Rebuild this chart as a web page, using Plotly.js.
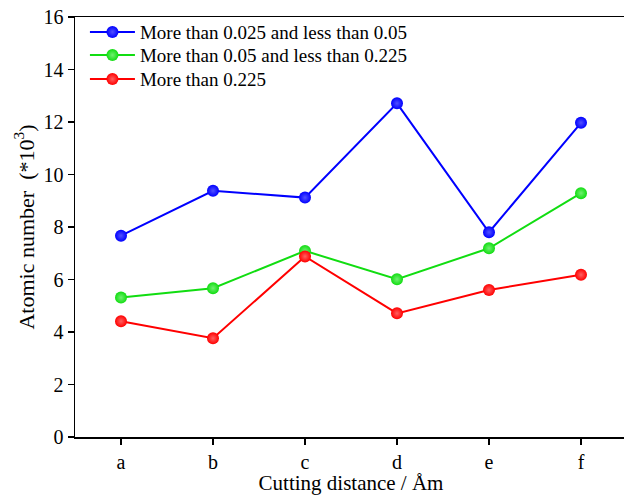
<!DOCTYPE html>
<html>
<head>
<meta charset="utf-8">
<script src="https://cdn.plot.ly/plotly-3.0.1.min.js"></script>
<style>
html,body{margin:0;padding:0;overflow:hidden;background:#fff;}
#chart{width:630px;height:495px;}
</style>
</head>
<body>
<div id="chart"></div>
<script>
const categories = ['a','b','c','d','e','f'];
const seriesNames = ['More than 0.025 and less than 0.05','More than 0.05 and less than 0.225','More than 0.225'];
const blueValues = [7.67, 9.38, 9.12, 12.71, 7.8, 11.97];
const greenValues = [5.31, 5.67, 7.09, 6.01, 7.19, 9.29];
const redValues = [4.41, 3.76, 6.88, 4.71, 5.6, 6.18];
const yTicks = [0,2,4,6,8,10,12,14,16];

const colors = ['#0000ff','#11dd11','#ff0000'];
const centers = ['#5050ff','#70f070','#ff6060'];
const allValues = [blueValues, greenValues, redValues];
const legendIds = ['legend','legend2','legend3'];
const legendY = [0.964, 0.909, 0.852];

const traces = allValues.map((vals,i)=>({
  type:'scatter', mode:'lines+markers',
  x: categories, y: vals, name: seriesNames[i], legend: legendIds[i],
  line:{color:colors[i], width:2},
  marker:{size:12, color:colors[i], gradient:{type:'radial', color:centers[i]}}
}));

const font = 'Liberation Serif';
const layout = {
  width:630, height:495,
  margin:{l:75, r:3, t:17, b:58},
  paper_bgcolor:'#fff', plot_bgcolor:'#fff',
  font:{family:font, color:'#000', size:18},
  showlegend:true,
  xaxis:{
    type:'category', range:[-0.5,5.5],
    showline:true, linecolor:'#000', linewidth:1.5, mirror:true,
    ticks:'outside', ticklen:6, tickwidth:1.5, tickcolor:'#000',
    showgrid:false, zeroline:false,
    tickfont:{family:font, size:20},
    title:{text:'Cutting distance / Åm', font:{family:font, size:21}, standoff:0}
  },
  yaxis:{
    range:[0,16], tickvals:yTicks, ticktext:yTicks.map(String),
    showline:true, linecolor:'#000', linewidth:1.5, mirror:false,
    ticks:'outside', ticklen:6, tickwidth:1.5, tickcolor:'#000',
    showgrid:false, zeroline:false,
    tickfont:{family:font, size:20},
    title:{text:'Atomic number  (*10<sup>3</sup>)', font:{family:font, size:22}, standoff:3}
  }
};
legendIds.forEach((id,i)=>{
  layout[id] = {x:0.018, y:legendY[i], xanchor:'left', yanchor:'middle',
    bgcolor:'rgba(0,0,0,0)', itemwidth:45,
    font:{family:font, size:19, color:'#000'}};
});
Plotly.newPlot('chart', traces, layout, {displayModeBar:false, staticPlot:true});
</script>
</body>
</html>
